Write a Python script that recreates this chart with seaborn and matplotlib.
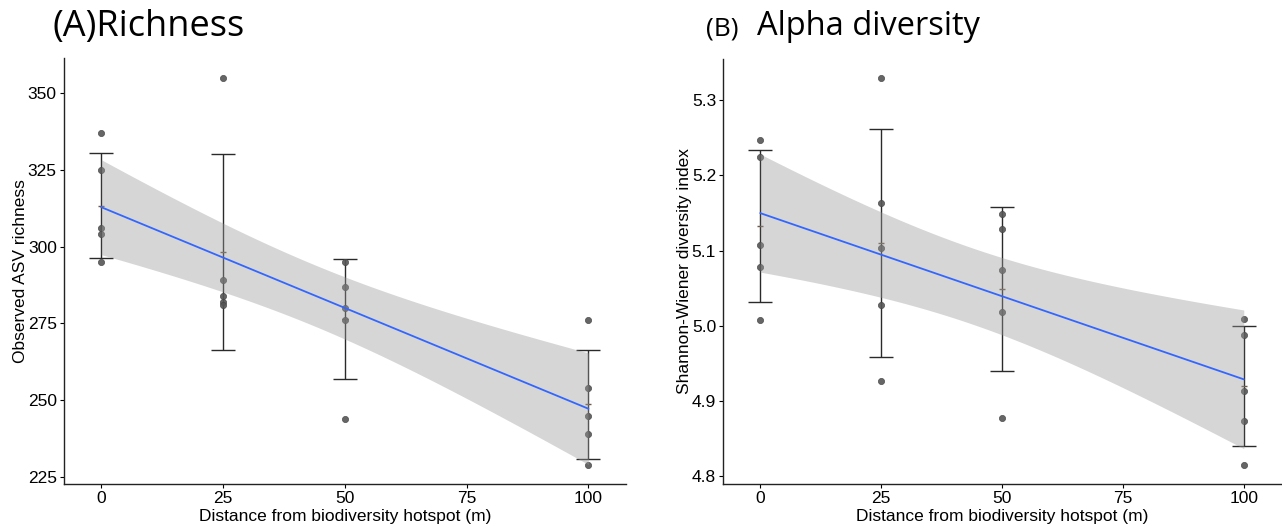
import numpy as np
import pandas as pd
import matplotlib
matplotlib.use("Agg")
import matplotlib.pyplot as plt
import seaborn as sns

# ---------------- data ----------------
distances = [0, 25, 50, 100]
richness_0 = [337, 325, 306, 304, 295]
richness_25 = [355, 289, 284, 282, 281]
richness_50 = [295, 287, 280, 276, 244]
richness_100 = [276, 254, 245, 239, 229]
shannon_0 = [5.247, 5.225, 5.107, 5.078, 5.008]
shannon_25 = [5.330, 5.164, 5.104, 5.028, 4.926]
shannon_50 = [5.149, 5.129, 5.074, 5.018, 4.877]
shannon_100 = [5.009, 4.988, 4.913, 4.873, 4.815]
x_ticks = [0, 25, 50, 75, 100]
richness_ticks = [225, 250, 275, 300, 325, 350]
shannon_ticks = [4.8, 4.9, 5.0, 5.1, 5.2, 5.3]
x_label = "Distance from biodiversity hotspot (m)"
y_label_a = "Observed ASV richness"
y_label_b = "Shannon-Wiener diversity index"

def make_df(groups):
    rows = []
    for d, vals in zip(distances, groups):
        for v in vals:
            rows.append((d, v))
    return pd.DataFrame(rows, columns=["dist", "val"])

df_a = make_df([richness_0, richness_25, richness_50, richness_100])
df_b = make_df([shannon_0, shannon_25, shannon_50, shannon_100])

sns.set_theme(style="white")
plt.rcParams["font.family"] = ["Liberation Sans", "DejaVu Sans"]

fig = plt.figure(figsize=(12.82, 5.28), dpi=100)
W, H = 1282, 528
ax_a = fig.add_axes([63.7 / W, (528 - 484) / H, (626 - 63.7) / W, (484 - 58.5) / H])
ax_b = fig.add_axes([723 / W, (528 - 484) / H, (1281 - 723) / W, (484 - 58.5) / H])

T975 = 2.1009  # t quantile, df = 18

def panel(ax, df, yticks, ylabel, fmt):
    # error bars: mean +/- SD
    stats = df.groupby("dist")["val"].agg(["mean", "std"]).reset_index()
    ax.errorbar(stats["dist"], stats["mean"], yerr=stats["std"], fmt="none",
                ecolor="#2a2a2a", elinewidth=1.0, capsize=8.4, capthick=1.0, zorder=1)
    ax.plot(stats["dist"], stats["mean"], linestyle="none", marker="_",
            markersize=5, color="#6b5a4a", zorder=1)
    # points
    sns.scatterplot(data=df, x="dist", y="val", ax=ax, s=20, color="#555555",
                    edgecolor="#444444", linewidth=0.5, alpha=0.9, zorder=2, legend=False)
    # linear fit with analytic 95% CI
    x = df["dist"].to_numpy(float)
    y = df["val"].to_numpy(float)
    n = len(x)
    b1, b0 = np.polyfit(x, y, 1)
    resid = y - (b0 + b1 * x)
    s = np.sqrt(np.sum(resid ** 2) / (n - 2))
    xg = np.linspace(x.min(), x.max(), 100)
    yg = b0 + b1 * xg
    se = s * np.sqrt(1 / n + (xg - x.mean()) ** 2 / np.sum((x - x.mean()) ** 2))
    ax.fill_between(xg, yg - T975 * se, yg + T975 * se, color="#999999",
                    alpha=0.4, linewidth=0, zorder=3)
    sns.lineplot(x=xg, y=yg, ax=ax, color="#3366FF", linewidth=1.3, zorder=4)

    lo = min(y.min(), (stats["mean"] - stats["std"]).min())
    hi = max(y.max(), (stats["mean"] + stats["std"]).max())
    pad = (hi - lo) * 0.05
    ax.set_ylim(lo - pad, hi + pad)
    ax.set_xlim(-7.7, 107.7)
    ax.set_xticks(x_ticks)
    ax.set_yticks(yticks)
    ax.set_yticklabels([fmt.format(t) for t in yticks])
    ax.set_xlabel(x_label, fontsize=12.5, color="black", labelpad=2.5)
    ax.set_ylabel(ylabel, fontsize=12.5, color="black", labelpad=0)
    ax.tick_params(axis="both", labelsize=12.5, colors="black", length=3,
                   width=0.8, direction="out", pad=2, left=True, bottom=True)
    for side in ["top", "right"]:
        ax.spines[side].set_visible(False)
    for side in ["left", "bottom"]:
        ax.spines[side].set_color("#222222")
        ax.spines[side].set_linewidth(1.0)
    ax.grid(False)
    ax.set_facecolor("white")

panel(ax_a, df_a, richness_ticks, y_label_a, "{:.0f}")
panel(ax_b, df_b, shannon_ticks, y_label_b, "{:.1f}")

tfam = ["Open Sans", "DejaVu Sans"]
fig.text(52 / W, 1 - 36 / H, "(A)Richness", fontsize=26, family=tfam,
         ha="left", va="baseline", color="black")
fig.text(706 / W, 1 - 35 / H, "(B)", fontsize=19, family=tfam,
         ha="left", va="baseline", color="black")
fig.text(757 / W, 1 - 35 / H, "Alpha diversity", fontsize=23.5, family=tfam,
         ha="left", va="baseline", color="black")

fig.savefig("out.png", dpi=100, facecolor="white")
